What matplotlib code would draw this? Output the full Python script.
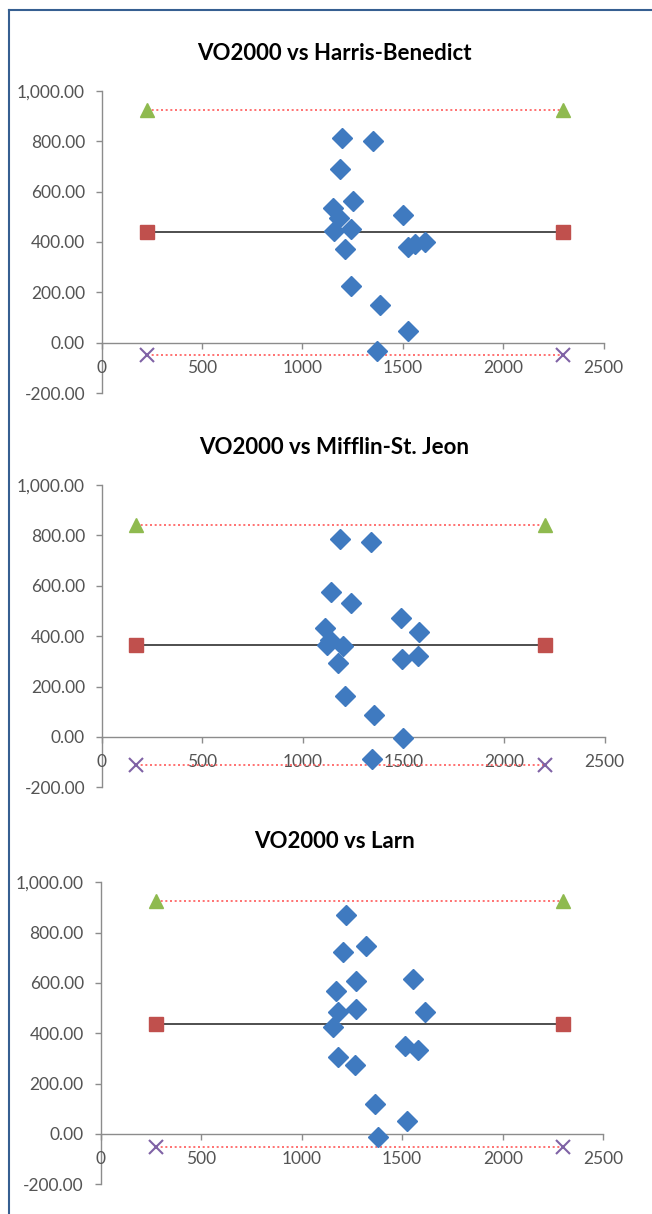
import matplotlib
matplotlib.use("Agg")
import matplotlib.pyplot as plt
from matplotlib.ticker import FuncFormatter
from matplotlib.lines import Line2D

plt.rcParams['font.family'] = ['Lato', 'DejaVu Sans']

titles = ["VO2000 vs Harris-Benedict", "VO2000 vs Mifflin-St. Jeon", "VO2000 vs Larn"]

# Panel 1: VO2000 vs Harris-Benedict
hb_x = [1196, 1351, 1187, 1250, 1154, 1184, 1499, 1158, 1244, 1212, 1524, 1562, 1611, 1244, 1386, 1524, 1371]
hb_y = [813, 801, 689, 563, 535, 496, 506, 444, 453, 371, 381, 391, 401, 227, 149, 48, -33]
hb_ends = [228, 2298]
hb_mean, hb_upper, hb_lower = 439, 925, -48

# Panel 2: VO2000 vs Mifflin-St. Jeon
ms_x = [1184, 1340, 1138, 1239, 1487, 1110, 1580, 1134, 1120, 1201, 1177, 1495, 1573, 1212, 1353, 1500, 1346]
ms_y = [784, 774, 575, 531, 473, 433, 416, 383, 363, 359, 294, 311, 322, 163, 87, -5, -87]
ms_ends = [169, 2202]
ms_mean, ms_upper, ms_lower = 363, 840, -113

# Panel 3: VO2000 vs Larn
la_x = [1220, 1322, 1207, 1271, 1555, 1172, 1180, 1268, 1612, 1154, 1512, 1579, 1180, 1265, 1367, 1524, 1382]
la_y = [869, 748, 725, 607, 615, 570, 483, 498, 483, 425, 350, 334, 305, 273, 118, 50, -13]
la_ends = [276, 2298]
la_mean, la_upper, la_lower = 438, 927, -53

x_ticks = [0, 500, 1000, 1500, 2000, 2500]
y_ticks = [-200, 0, 200, 400, 600, 800, 1000]

panels = [
    (titles[0], hb_x, hb_y, hb_ends, hb_mean, hb_upper, hb_lower),
    (titles[1], ms_x, ms_y, ms_ends, ms_mean, ms_upper, ms_lower),
    (titles[2], la_x, la_y, la_ends, la_mean, la_upper, la_lower),
]

W, H = 652, 1214
fig = plt.figure(figsize=(W / 100, H / 100), dpi=100)

# axes boxes in pixels: (left, top, right, bottom)
boxes = [(101.7, 90.7, 603.5, 393.3), (101.7, 485.0, 604.5, 787.3), (100.5, 882.3, 603.3, 1184.3)]
title_y = [54, 448, 842]

axis_col = '#8c8c8c'
text_col = '#545454'

for (title, xs, ys, ends, mean, upper, lower), (l, t, r, b), ty in zip(panels, boxes, title_y):
    ax = fig.add_axes([l / W, 1 - b / H, (r - l) / W, (b - t) / H])
    ax.set_xlim(0, 2500)
    ax.set_ylim(-200, 1000)
    ax.set_facecolor('none')

    ax.plot(ends, [upper, upper], color='#ff5a5a', lw=1.2, ls=(0, (1.2, 1.6)), zorder=2)
    ax.plot(ends, [lower, lower], color='#ff5a5a', lw=1.2, ls=(0, (1.2, 1.6)), zorder=2)
    ax.plot(ends, [mean, mean], color='#404040', lw=1.3, zorder=2)
    ax.plot(ends, [upper, upper], ls='none', marker='^', ms=10.5, color='#8fba4f', zorder=3)
    ax.plot(ends, [mean, mean], ls='none', marker='s', ms=10, color='#c0504d', zorder=3)
    ax.plot(ends, [lower, lower], ls='none', marker='x', ms=10, mew=1.5, color='#7f62a5', zorder=3)
    ax.plot(xs, ys, ls='none', marker='D', ms=10, color='#3f7ac0', zorder=4)

    for s in ['top', 'right']:
        ax.spines[s].set_visible(False)
    ax.spines['bottom'].set_position(('data', 0))
    ax.spines['left'].set_position(('data', 0))
    for s in ['bottom', 'left']:
        ax.spines[s].set_color(axis_col)
        ax.spines[s].set_linewidth(1.0)
        ax.spines[s].set_zorder(1)

    ax.set_xticks(x_ticks)
    ax.set_yticks(y_ticks)
    ax.yaxis.set_major_formatter(FuncFormatter(lambda v, p: f"{v:,.2f}"))
    ax.tick_params(axis='x', direction='out', length=4, width=1, color=axis_col,
                   labelcolor=text_col, labelsize=12.5, pad=8)
    ax.tick_params(axis='y', direction='out', length=4, width=1, color=axis_col,
                   labelcolor=text_col, labelsize=12.5, pad=8)

    fig.text(334 / W, 1 - ty / H, title, ha='center', va='center',
             fontsize=16, fontweight='bold', color='black')

# frame border (top and left)
fig.add_artist(Line2D([9 / W, 9 / W], [0, 1 - 10 / H], color='#365f91', lw=1.5))
fig.add_artist(Line2D([9 / W, 1], [1 - 10 / H, 1 - 10 / H], color='#365f91', lw=1.5))

fig.savefig('out.png', dpi=100, facecolor='white')
